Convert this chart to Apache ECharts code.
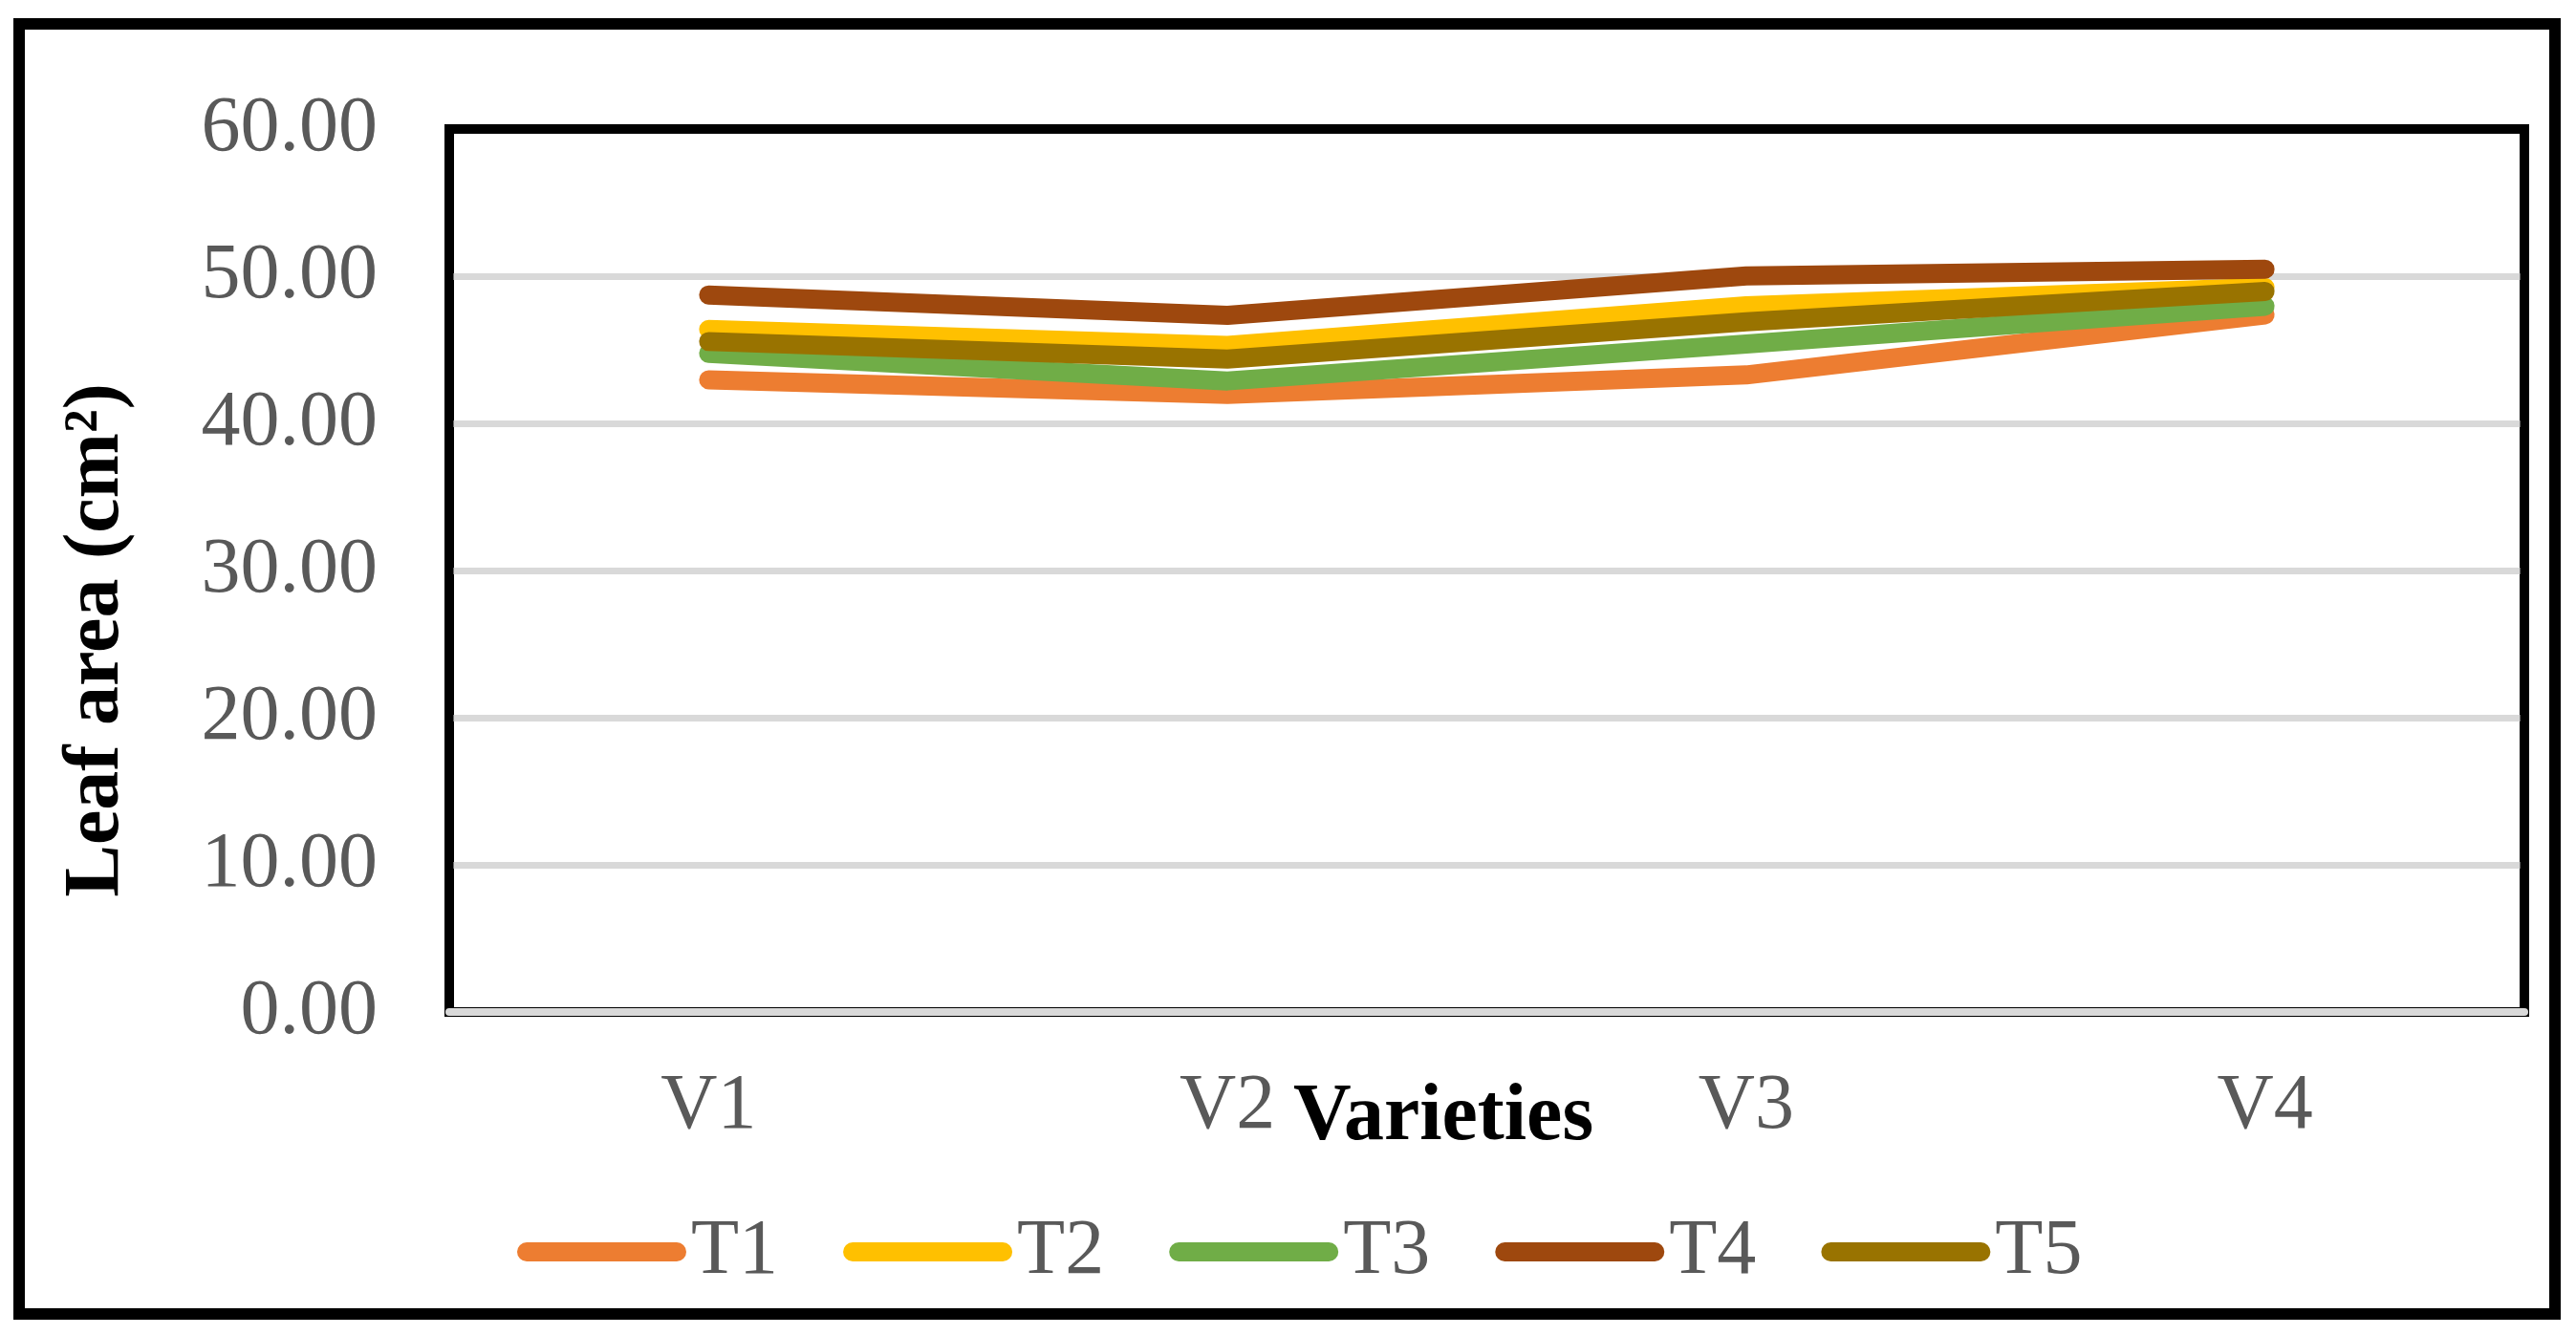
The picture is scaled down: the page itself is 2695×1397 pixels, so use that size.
<!DOCTYPE html>
<html>
<head>
<meta charset="utf-8">
<script src="https://cdn.jsdelivr.net/npm/echarts@6/dist/echarts.min.js"></script>
<style>
html,body{margin:0;padding:0;background:#fff;}
#chart{width:2695px;height:1397px;}
</style>
</head>
<body>
<div id="chart"></div>
<script>
const categories = ['V1', 'V2', 'V3', 'V4'];
const seriesNames = ['T1', 'T2', 'T3', 'T4', 'T5'];
const T1 = [42.96, 41.97, 43.29, 47.36];
const T2 = [46.38, 45.30, 47.99, 49.24];
const T3 = [44.76, 42.88, 45.39, 47.96];
const T4 = [48.72, 47.34, 50.02, 50.47];
const T5 = [45.56, 44.37, 46.90, 48.96];
const yTicks = [0, 10, 20, 30, 40, 50, 60];
const colors = ['#ED7D31', '#FFC000', '#70AD47', '#9E480E', '#997300'];
const yTitle = 'Leaf area (cm\u00B2)';
const xTitle = 'Varieties';

const seriesData = [T1, T2, T3, T4, T5];
const FONT = '"Liberation Serif", "Times New Roman", serif';
const chart = echarts.init(document.getElementById('chart'), null, {renderer: 'canvas'});

const G = {left: 470, top: 135, width: 2171, height: 924};

const option = {
  backgroundColor: '#fff',
  animation: false,
  color: colors,
  grid: {
    left: G.left, top: G.top, width: G.width, height: G.height,
    show: true, borderColor: '#000', borderWidth: 10, backgroundColor: 'transparent'
  },
  xAxis: {
    type: 'category',
    data: categories,
    boundaryGap: true,
    axisTick: {show: false},
    axisLine: {show: true, lineStyle: {color: '#D9D9D9', width: 8}},
    axisLabel: {fontSize: 82, color: '#595959', fontFamily: FONT, margin: 58},
    splitLine: {show: false}
  },
  yAxis: {
    type: 'value',
    min: yTicks[0], max: yTicks[yTicks.length - 1], interval: 10,
    axisLine: {show: false},
    axisTick: {show: false},
    axisLabel: {fontSize: 82, color: '#595959', fontFamily: FONT, margin: 75,
      formatter: v => v.toFixed(2)},
    splitLine: {show: true, lineStyle: {color: '#D9D9D9', width: 7}}
  },
  legend: {
    data: seriesNames,
    left: 536, top: 1264,
    orient: 'horizontal',
    icon: 'path://M10,0H167A10,10,0,0,1,167,20H10A10,10,0,0,1,10,0Z',
    itemWidth: 177, itemHeight: 20, itemGap: 68,
    itemStyle: {borderWidth: 0},
    textStyle: {fontSize: 82, color: '#595959', fontFamily: FONT}
  },
  series: seriesNames.map((name, i) => ({
    name: name,
    type: 'line',
    data: seriesData[i],
    showSymbol: false,
    symbol: 'none',
    lineStyle: {width: 20, color: colors[i], cap: 'round', join: 'round'},
    itemStyle: {color: colors[i]},
    z: 2 + i
  })),
  graphic: [
    {
      type: 'rect', silent: true, z: 100,
      shape: {x: 20, y: 25, width: 2653, height: 1350},
      style: {fill: 'none', stroke: '#000', lineWidth: 12}
    },
    {
      type: 'polyline', silent: true, z: 100,
      shape: {points: [[G.left, G.top + G.height - 4], [G.left, G.top], [G.left + G.width, G.top], [G.left + G.width, G.top + G.height - 4]]},
      style: {fill: 'none', stroke: '#000', lineWidth: 9, lineJoin: 'miter'}
    },
    {
      type: 'text', silent: true, z: 100,
      x: 102, y: 670, rotation: Math.PI / 2,
      style: {text: yTitle, font: 'bold 82px ' + FONT, fill: '#000',
        align: 'center', verticalAlign: 'middle'}
    },
    {
      type: 'text', silent: true, z: 100,
      x: 1510, y: 1170,
      style: {text: xTitle, font: 'bold 84px ' + FONT, fill: '#000',
        align: 'center', verticalAlign: 'middle'}
    }
  ]
};
chart.setOption(option);
</script>
</body>
</html>
